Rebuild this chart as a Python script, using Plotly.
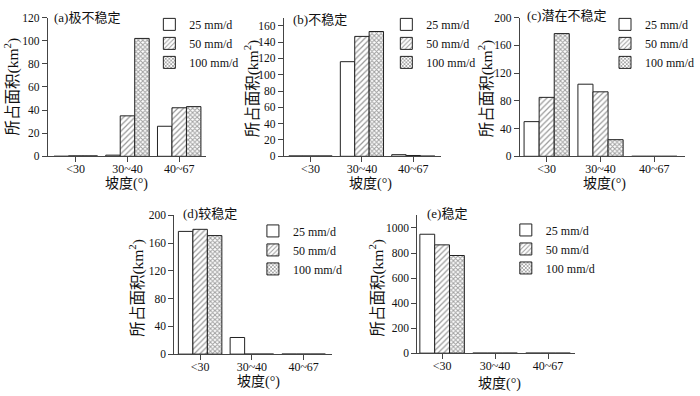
import plotly.graph_objects as go

categories = ["<30", "30~40", "40~67"]
series_names = ["25 mm/d", "50 mm/d", "100 mm/d"]

# values per panel: [25 mm/d, 50 mm/d, 100 mm/d]
a_25 = [0, 1, 26]
a_50 = [0.4, 35, 42]
a_100 = [0.4, 102, 43]

b_25 = [0.5, 116, 2]
b_50 = [0.5, 147, 1]
b_100 = [0.5, 153, 0.3]

c_25 = [50, 104, 0]
c_50 = [85, 93, 0]
c_100 = [177, 24, 0]

d_25 = [177, 24, 0]
d_50 = [180, 0, 0]
d_100 = [171, 0, 0]

e_25 = [950, 0, 0]
e_50 = [865, 0, 0]
e_100 = [780, 0, 0]

panel_titles = ["(a)极不稳定", "(b)不稳定", "(c)潜在不稳定", "(d)较稳定", "(e)稳定"]
y_ranges = [[0, 120], [0, 170], [0, 200], [0, 200], [0, 1100]]
y_ticks = [[0, 20, 40, 60, 80, 100, 120],
           [0, 20, 40, 60, 80, 100, 120, 140, 160],
           [0, 40, 80, 120, 160, 200],
           [0, 40, 80, 120, 160, 200],
           [0, 200, 400, 600, 800, 1000]]
x_title = "坡度(°)"
y_title = "所占面积(km<sup>2</sup>)"

panels = [(a_25, a_50, a_100), (b_25, b_50, b_100), (c_25, c_50, c_100),
          (d_25, d_50, d_100), (e_25, e_50, e_100)]

W, H = 700, 396
# layout in pixels: (x0, x1, ybottom, ytop)
boxes = [(48, 207, 155, 12), (285, 443, 155, 12), (522, 688, 155, 12),
         (175, 333, 359, 216), (419, 577, 358, 216)]
x_ranges = [[-0.54, 2.52], [-0.52, 2.54], [-0.5, 2.57], [-0.5, 2.54], [-0.47, 2.5]]
legend_pos = [(150, 4), (388, 4), (608, 4), (254, 217), (508, 216)]
title_pos = [(52, 12), (292, 14), (527, 10), (182, 214), (427, 214)]
ytitle_pos = [(12, 83), (253, 85), (488, 85), (137, 290), (378, 290)]
xtitle_pos = [(127, 184), (372, 184), (607, 184), (260, 388), (502, 390)]

SERIF = "Liberation Serif, Times New Roman, Noto Sans CJK SC, serif"
CJK = "Liberation Serif, Noto Sans CJK SC, serif"

patterns = [dict(shape=""),
            dict(shape="/", size=4, solidity=0.3, fgcolor="#333333", bgcolor="white"),
            dict(shape="x", size=3.2, solidity=0.55, fgcolor="#444444", bgcolor="white")]

fig = go.Figure()
annotations = []
for i, (vals, box, xr, yr, yt) in enumerate(zip(panels, boxes, x_ranges, y_ranges, y_ticks)):
    n = "" if i == 0 else str(i + 1)
    xa, ya = "x" + n, "y" + n
    for j, v in enumerate(vals):
        fig.add_trace(go.Bar(
            x=categories, y=v, name=series_names[j],
            xaxis=xa, yaxis=ya,
            legend="legend" + n,
            marker=dict(color="white", line=dict(color="#222222", width=1),
                        pattern=patterns[j]),
        ))
    x0, x1, yb, ytp = box
    fig.layout["xaxis" + n] = dict(
        domain=[x0 / W, x1 / W], anchor=ya, type="category", range=xr,
        showline=True, linecolor="#444444", linewidth=1,
        ticks="outside", ticklen=5, tickcolor="#444444", ticklabelstandoff=-4,
        tickfont=dict(family=SERIF, size=12, color="#111111"),
        showgrid=False, zeroline=False, fixedrange=True)
    fig.layout["yaxis" + n] = dict(
        domain=[1 - yb / H, 1 - ytp / H], anchor=xa, range=yr,
        tickvals=yt, showline=True, linecolor="#444444", linewidth=1,
        ticks="outside", ticklen=5, tickcolor="#444444",
        tickfont=dict(family=SERIF, size=11.5, color="#111111"),
        showgrid=False, zeroline=False, fixedrange=True)
    lx, ly = legend_pos[i]
    fig.layout["legend" + n] = dict(
        x=lx / W, y=1 - ly / H, xanchor="left", yanchor="top",
        bgcolor="rgba(0,0,0,0)", font=dict(family=SERIF, size=12, color="#111111"),
        tracegroupgap=0, itemwidth=30, traceorder="normal")
    tx, ty = title_pos[i]
    annotations.append(dict(text=panel_titles[i], x=tx / W, y=1 - ty / H,
                            xref="paper", yref="paper", xanchor="left", yanchor="middle",
                            showarrow=False, font=dict(family=CJK, size=13, color="#111111")))
    yx, yy = ytitle_pos[i]
    annotations.append(dict(text=y_title, x=yx / W, y=1 - yy / H, textangle=-90,
                            xref="paper", yref="paper", xanchor="center", yanchor="middle",
                            showarrow=False, font=dict(family=CJK, size=15.5, color="#111111")))
    xx, xy = xtitle_pos[i]
    annotations.append(dict(text=x_title, x=xx / W, y=1 - xy / H,
                            xref="paper", yref="paper", xanchor="center", yanchor="middle",
                            showarrow=False, font=dict(family=CJK, size=14, color="#111111")))

fig.update_layout(
    width=W, height=H, margin=dict(l=0, r=0, t=0, b=0),
    paper_bgcolor="white", plot_bgcolor="white",
    barmode="group", bargap=0.16, bargroupgap=0,
    annotations=annotations, showlegend=True,
)
fig.write_html("out.html", config={"displayModeBar": False},
               post_script="document.body.style.margin='0px';")
